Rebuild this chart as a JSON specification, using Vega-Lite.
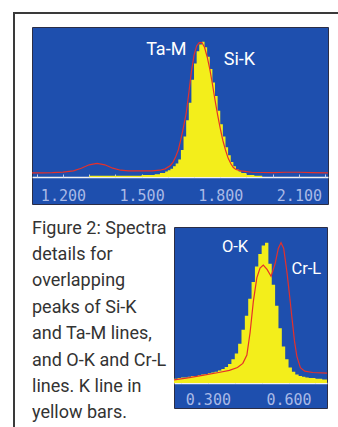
{
  "$schema": "https://vega.github.io/schema/vega-lite/v6.json",
  "padding": {"left": 13, "top": 7, "right": 0, "bottom": 0},
  "background": "white",
  "bounds": "flush",
  "spacing": 0,
  "config": {"view": {"stroke": null}, "axis": {"grid": false}},
  "datasets": {
    "siK": [
      {"keV": 1.30, "counts": 1}, {"keV": 1.50, "counts": 1.5}, {"keV": 1.55, "counts": 2}, {"keV": 1.57, "counts": 3},
      {"keV": 1.59, "counts": 4}, {"keV": 1.60, "counts": 5}, {"keV": 1.61, "counts": 6}, {"keV": 1.62, "counts": 8},
      {"keV": 1.63, "counts": 10}, {"keV": 1.64, "counts": 13}, {"keV": 1.65, "counts": 20}, {"keV": 1.66, "counts": 30},
      {"keV": 1.67, "counts": 42}, {"keV": 1.68, "counts": 55}, {"keV": 1.69, "counts": 72}, {"keV": 1.70, "counts": 84},
      {"keV": 1.71, "counts": 93}, {"keV": 1.72, "counts": 98}, {"keV": 1.73, "counts": 100}, {"keV": 1.74, "counts": 96},
      {"keV": 1.75, "counts": 89}, {"keV": 1.76, "counts": 80}, {"keV": 1.77, "counts": 70}, {"keV": 1.78, "counts": 60},
      {"keV": 1.79, "counts": 49}, {"keV": 1.80, "counts": 39}, {"keV": 1.81, "counts": 30}, {"keV": 1.82, "counts": 22},
      {"keV": 1.83, "counts": 16}, {"keV": 1.84, "counts": 11}, {"keV": 1.85, "counts": 8}, {"keV": 1.86, "counts": 5.5},
      {"keV": 1.87, "counts": 4}, {"keV": 1.88, "counts": 3}, {"keV": 1.90, "counts": 1.5}, {"keV": 1.93, "counts": 1},
      {"keV": 1.96, "counts": 0}
    ],
    "topTotal": [
      {"keV": 1.082, "counts": 3}, {"keV": 1.12, "counts": 3}, {"keV": 1.16, "counts": 3.2}, {"keV": 1.20, "counts": 3.6},
      {"keV": 1.24, "counts": 4.5}, {"keV": 1.27, "counts": 6.5}, {"keV": 1.30, "counts": 9}, {"keV": 1.33, "counts": 10},
      {"keV": 1.36, "counts": 9}, {"keV": 1.39, "counts": 6.5}, {"keV": 1.42, "counts": 5}, {"keV": 1.45, "counts": 4.5},
      {"keV": 1.50, "counts": 4.5}, {"keV": 1.54, "counts": 4.5}, {"keV": 1.57, "counts": 5}, {"keV": 1.59, "counts": 6},
      {"keV": 1.61, "counts": 8.5}, {"keV": 1.62, "counts": 11}, {"keV": 1.63, "counts": 15}, {"keV": 1.64, "counts": 20},
      {"keV": 1.65, "counts": 28}, {"keV": 1.66, "counts": 37}, {"keV": 1.67, "counts": 47}, {"keV": 1.68, "counts": 62},
      {"keV": 1.69, "counts": 78}, {"keV": 1.70, "counts": 90}, {"keV": 1.71, "counts": 97}, {"keV": 1.72, "counts": 99.5},
      {"keV": 1.73, "counts": 99.5}, {"keV": 1.74, "counts": 96}, {"keV": 1.75, "counts": 89}, {"keV": 1.76, "counts": 80},
      {"keV": 1.77, "counts": 69}, {"keV": 1.78, "counts": 57}, {"keV": 1.79, "counts": 46}, {"keV": 1.80, "counts": 36},
      {"keV": 1.81, "counts": 27}, {"keV": 1.82, "counts": 20}, {"keV": 1.83, "counts": 14}, {"keV": 1.84, "counts": 10},
      {"keV": 1.85, "counts": 7}, {"keV": 1.86, "counts": 5.5}, {"keV": 1.88, "counts": 4.5}, {"keV": 1.92, "counts": 3.5},
      {"keV": 2.00, "counts": 3.2}, {"keV": 2.05, "counts": 3.5}, {"keV": 2.10, "counts": 3.5}, {"keV": 2.15, "counts": 3.2},
      {"keV": 2.211, "counts": 3}
    ],
    "topLabels": [
      {"keV": 1.594, "counts": 94, "label": "Ta-M"},
      {"keV": 1.873, "counts": 86.7, "label": "Si-K"}
    ],
    "oK": [
      {"keV": 0.1740, "counts": 3}, {"keV": 0.1875, "counts": 3.5}, {"keV": 0.2000, "counts": 4}, {"keV": 0.2125, "counts": 4},
      {"keV": 0.2250, "counts": 4.5}, {"keV": 0.2375, "counts": 5}, {"keV": 0.2500, "counts": 5}, {"keV": 0.2625, "counts": 5.5},
      {"keV": 0.2750, "counts": 6}, {"keV": 0.2875, "counts": 6.5}, {"keV": 0.3000, "counts": 7}, {"keV": 0.3125, "counts": 7.5},
      {"keV": 0.3250, "counts": 8}, {"keV": 0.3375, "counts": 9}, {"keV": 0.3500, "counts": 10}, {"keV": 0.3625, "counts": 11.5},
      {"keV": 0.3750, "counts": 13.5}, {"keV": 0.3875, "counts": 17}, {"keV": 0.4000, "counts": 21}, {"keV": 0.4125, "counts": 28},
      {"keV": 0.4250, "counts": 38}, {"keV": 0.4375, "counts": 48}, {"keV": 0.4500, "counts": 60}, {"keV": 0.4625, "counts": 72},
      {"keV": 0.4750, "counts": 83}, {"keV": 0.4875, "counts": 92}, {"keV": 0.5000, "counts": 98}, {"keV": 0.5125, "counts": 100},
      {"keV": 0.5250, "counts": 85}, {"keV": 0.5375, "counts": 70}, {"keV": 0.5500, "counts": 55}, {"keV": 0.5625, "counts": 39},
      {"keV": 0.5750, "counts": 26}, {"keV": 0.5875, "counts": 17}, {"keV": 0.6000, "counts": 11}, {"keV": 0.6125, "counts": 8},
      {"keV": 0.6250, "counts": 6}, {"keV": 0.6375, "counts": 5}, {"keV": 0.6500, "counts": 4.5}, {"keV": 0.6625, "counts": 4},
      {"keV": 0.6750, "counts": 3.5}, {"keV": 0.7000, "counts": 3}, {"keV": 0.7250, "counts": 2.5}, {"keV": 0.7430, "counts": 2.5}
    ],
    "botTotal": [
      {"keV": 0.174, "counts": 2.2}, {"keV": 0.22, "counts": 3.5}, {"keV": 0.28, "counts": 5.5}, {"keV": 0.34, "counts": 7.5},
      {"keV": 0.38, "counts": 9}, {"keV": 0.41, "counts": 11}, {"keV": 0.43, "counts": 14}, {"keV": 0.445, "counts": 20},
      {"keV": 0.457, "counts": 36}, {"keV": 0.469, "counts": 58}, {"keV": 0.482, "counts": 75}, {"keV": 0.494, "counts": 82},
      {"keV": 0.506, "counts": 84}, {"keV": 0.52, "counts": 81}, {"keV": 0.535, "counts": 76}, {"keV": 0.55, "counts": 85},
      {"keV": 0.562, "counts": 96}, {"keV": 0.572, "counts": 100}, {"keV": 0.582, "counts": 96}, {"keV": 0.594, "counts": 79},
      {"keV": 0.604, "counts": 62}, {"keV": 0.613, "counts": 46}, {"keV": 0.622, "counts": 30}, {"keV": 0.631, "counts": 19},
      {"keV": 0.644, "counts": 11}, {"keV": 0.66, "counts": 8.5}, {"keV": 0.69, "counts": 7.5}, {"keV": 0.743, "counts": 7}
    ],
    "botLabels": [
      {"keV": 0.401, "counts": 97.3, "label": "O-K"},
      {"keV": 0.666, "counts": 81, "label": "Cr-L"}
    ]
  },
  "vconcat": [
    {
      "width": 325, "height": 2,
      "view": {"fill": "#3a3a3a", "stroke": null},
      "data": {"values": [{}]},
      "mark": {"type": "text"},
      "encoding": {"text": {"value": ""}}
    },
    {
      "bounds": "flush",
      "spacing": 17,
      "hconcat": [
        {
          "width": 2, "height": 416,
          "view": {"fill": "#3a3a3a", "stroke": null},
          "data": {"values": [{}]},
          "mark": {"type": "text"},
          "encoding": {"text": {"value": ""}}
        },
        {
          "bounds": "flush",
          "spacing": 12,
          "vconcat": [
            {
              "width": 1, "height": 1,
              "data": {"values": [{}]},
              "mark": {"type": "text"},
              "encoding": {"text": {"value": ""}}
            },
            {
              "width": 296, "height": 177,
              "view": {"fill": "#1e4fae", "stroke": "#2b2d45", "strokeWidth": 1},
              "resolve": {"axis": {"x": "independent"}},
              "layer": [
                {
                  "data": {"name": "siK"},
                  "mark": {"type": "area", "interpolate": "step-after", "color": "#f3ee1b", "clip": true},
                  "encoding": {
                    "x": {"field": "keV", "type": "quantitative",
                      "scale": {"domain": [1.082, 2.211], "nice": false, "zero": false},
                      "axis": {"orient": "bottom", "offset": -27, "title": null,
                        "values": [1.2, 1.5, 1.8, 2.1], "format": ".3f",
                        "domainColor": "#f2f2f2", "domainWidth": 1.5, "ticks": false,
                        "labelColor": "#a9b9e6", "labelFont": "DejaVu Sans Mono", "labelFontSize": 15,
                        "labelPadding": 11, "labelOverlap": false, "labelFlush": false, "grid": false}},
                    "y": {"field": "counts", "type": "quantitative",
                      "scale": {"domain": [-20, 111], "nice": false, "zero": false}, "axis": null},
                    "y2": {"datum": 0}
                  }
                },
                {
                  "data": {"name": "topTotal"},
                  "mark": {"type": "line", "color": "#e5312b", "strokeWidth": 1.2, "clip": true},
                  "encoding": {
                    "x": {"field": "keV", "type": "quantitative",
                      "axis": {"orient": "bottom", "offset": -27, "title": null,
                        "values": [1.1, 1.2, 1.3, 1.4, 1.5, 1.6, 1.7, 1.8, 1.9, 2.0, 2.1, 2.2],
                        "domain": false, "labels": false, "ticks": true,
                        "tickColor": "#c2cdee", "tickSize": -3, "tickWidth": 1, "grid": false}},
                    "y": {"field": "counts", "type": "quantitative"}
                  }
                },
                {
                  "data": {"name": "topLabels"},
                  "mark": {"type": "text", "color": "white", "font": "Roboto", "fontSize": 18, "align": "center", "baseline": "middle"},
                  "encoding": {
                    "x": {"field": "keV", "type": "quantitative", "axis": null},
                    "y": {"field": "counts", "type": "quantitative"},
                    "text": {"field": "label"}
                  }
                }
              ]
            },
            {
              "bounds": "flush",
              "spacing": 20,
              "hconcat": [
                {
                  "width": 122, "height": 1,
                  "data": {"values": [{}]},
                  "mark": {"type": "text"},
                  "encoding": {"text": {"value": ""}},
                  "title": {
                    "text": ["Figure 2: Spectra", "details for", "overlapping", "peaks of Si-K", "and Ta-M lines,", "and O-K and Cr-L", "lines. K line in", "yellow bars."],
                    "orient": "bottom", "anchor": "start", "frame": "group", "offset": -2,
                    "font": "Roboto", "fontSize": 18, "fontWeight": "normal",
                    "color": "#333333", "lineHeight": 26.4, "baseline": "top"
                  }
                },
                {
                  "bounds": "flush",
                  "spacing": 10,
                  "vconcat": [
                    {
                      "width": 1, "height": 1,
                      "data": {"values": [{}]},
                      "mark": {"type": "text"},
                      "encoding": {"text": {"value": ""}}
                    },
                    {
                      "width": 153, "height": 181,
                      "view": {"fill": "#1e4fae", "stroke": "#2b2d45", "strokeWidth": 1},
                      "resolve": {"axis": {"x": "independent"}},
                      "layer": [
                        {
                          "data": {"name": "oK"},
                          "mark": {"type": "area", "interpolate": "step-after", "color": "#f3ee1b", "clip": true},
                          "encoding": {
                            "x": {"field": "keV", "type": "quantitative",
                              "scale": {"domain": [0.174, 0.743], "nice": false, "zero": false},
                              "axis": {"orient": "bottom", "offset": -25, "title": null,
                                "values": [0.3, 0.6], "format": ".3f",
                                "domainColor": "#f2f2f2", "domainWidth": 1.5, "ticks": false,
                                "labelColor": "#a9b9e6", "labelFont": "DejaVu Sans Mono", "labelFontSize": 15,
                                "labelPadding": 9, "labelOverlap": false, "labelFlush": false, "grid": false}},
                            "y": {"field": "counts", "type": "quantitative",
                              "scale": {"domain": [-17.8, 111.2], "nice": false, "zero": false}, "axis": null},
                            "y2": {"datum": 0}
                          }
                        },
                        {
                          "data": {"name": "botTotal"},
                          "mark": {"type": "line", "color": "#e5312b", "strokeWidth": 1.2, "clip": true},
                          "encoding": {
                            "x": {"field": "keV", "type": "quantitative",
                              "axis": {"orient": "bottom", "offset": -25, "title": null,
                                "values": [0.2, 0.3, 0.4, 0.5, 0.6, 0.7],
                                "domain": false, "labels": false, "ticks": true,
                                "tickColor": "#c2cdee", "tickSize": -3, "tickWidth": 1, "grid": false}},
                            "y": {"field": "counts", "type": "quantitative"}
                          }
                        },
                        {
                          "data": {"name": "botLabels"},
                          "mark": {"type": "text", "color": "white", "font": "Roboto", "fontSize": 16.5, "align": "center", "baseline": "middle"},
                          "encoding": {
                            "x": {"field": "keV", "type": "quantitative", "axis": null},
                            "y": {"field": "counts", "type": "quantitative"},
                            "text": {"field": "label"}
                          }
                        }
                      ]
                    }
                  ]
                }
              ]
            }
          ]
        }
      ]
    }
  ]
}
